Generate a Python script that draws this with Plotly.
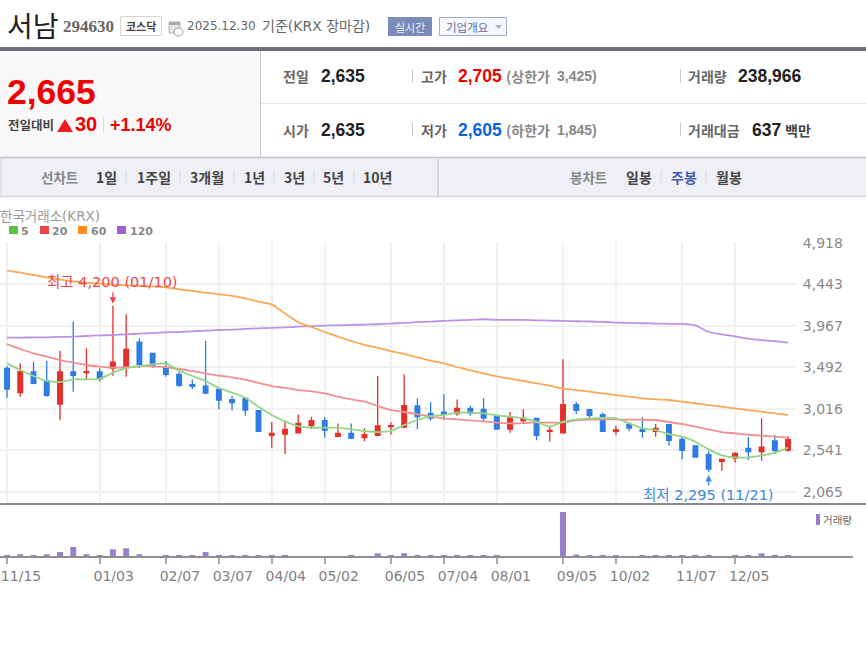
import plotly.graph_objects as go

dates = ["2024-11-15","2024-11-22","2024-11-29","2024-12-06","2024-12-13","2024-12-20","2024-12-27",
 "2025-01-03","2025-01-10","2025-01-17","2025-01-24","2025-01-31","2025-02-07","2025-02-14","2025-02-21","2025-02-28",
 "2025-03-07","2025-03-14","2025-03-21","2025-03-28","2025-04-04","2025-04-11","2025-04-18","2025-04-25",
 "2025-05-02","2025-05-09","2025-05-16","2025-05-23","2025-05-30","2025-06-05","2025-06-13","2025-06-20","2025-06-27",
 "2025-07-04","2025-07-11","2025-07-18","2025-07-25","2025-08-01","2025-08-08","2025-08-14","2025-08-22","2025-08-29",
 "2025-09-05","2025-09-12","2025-09-19","2025-09-26","2025-10-02","2025-10-10","2025-10-17","2025-10-24","2025-10-31",
 "2025-11-07","2025-11-14","2025-11-21","2025-11-28","2025-12-05","2025-12-12","2025-12-19","2025-12-26","2025-12-30"]
opens = [3482,3203,3440,3340,3073,3440,3432,3440,3482,3489,3783,3653,3485,3413,3294,3279,3241,3123,3138,2996,2714,2729,
 2744,2825,2882,2702,2737,2687,2714,2813,2809,3050,2966,2981,2962,3023,3012,2928,2786,2882,2909,2760,2744,
 3065,3008,2951,2760,2840,2779,2760,2836,2668,2592,2492,2416,2454,2565,2527,2649,2546]
highs = [3508,3539,3558,3566,3684,4016,3711,3482,4200,4100,3825,3653,3566,3436,3355,3799,3249,3165,3145,3000,2867,2882,
 2955,2928,2920,2851,2851,2794,3398,2863,3413,3138,3096,3184,3126,3054,3138,2947,2981,3012,2909,2813,3585,
 3096,3019,2977,2828,2859,2920,2844,2840,2706,2595,2531,2450,2519,2695,2909,2722,2705]
lows = [3145,3157,3298,3157,2886,3214,3348,3329,3398,3386,3489,3489,3386,3271,3245,3184,3016,3000,2939,2756,2573,2500,
 2737,2786,2687,2695,2668,2645,2714,2725,2794,2783,2882,2890,2939,2939,2878,2786,2744,2859,2657,2641,2744,
 2958,2890,2756,2714,2760,2687,2699,2599,2439,2458,2295,2309,2401,2431,2427,2500,2527]
closes = [3245,3443,3310,3172,3440,3401,3443,3360,3554,3700,3527,3505,3413,3287,3275,3199,3119,3088,3004,2760,2737,2783,
 2851,2882,2771,2737,2683,2721,2821,2825,3054,2928,2913,2955,3023,2970,2913,2786,2913,2909,2714,2771,3065,
 3000,2943,2760,2775,2798,2760,2794,2657,2542,2466,2328,2439,2508,2527,2580,2542,2665]
ma5 = [3539,3463,3394,3337,3325,3356,3356,3360,3432,3485,3508,3527,3539,3455,3394,3337,3256,3203,3145,3042,2947,2875,
 2821,2802,2802,2802,2783,2764,2752,2764,2832,2890,2935,2947,2974,2974,2966,2943,2928,2909,2870,2813,2870,
 2893,2905,2913,2909,2851,2794,2775,2729,2699,2641,2553,2485,2462,2462,2481,2515,2573]
ma20 = [3760,3703,3654,3615,3577,3547,3520,3501,3489,3493,3505,3505,3497,3474,3451,3424,3398,3379,3352,3314,3279,3258,
 3233,3218,3195,3157,3126,3100,3050,3004,2981,2958,2928,2909,2897,2886,2874,2859,2851,2855,2863,2859,2863,
 2886,2893,2897,2897,2893,2893,2890,2867,2844,2813,2783,2752,2737,2721,2710,2699,2687]
ma60 = [4601,4578,4551,4525,4498,4479,4463,4452,4440,4433,4425,4418,4410,4387,4368,4349,4330,4311,4284,4246,4215,4110,
 4009,3955,3898,3845,3795,3751,3716,3680,3646,3608,3570,3539,3497,3459,3424,3390,3363,3337,3310,3283,3249,
 3233,3214,3195,3176,3157,3138,3126,3119,3100,3081,3061,3042,3023,3004,2985,2966,2947]
ma120 = [3833,3833,3837,3837,3841,3845,3852,3859,3863,3871,3879,3886,3894,3898,3906,3913,3921,3925,3933,3940,3945,3950,
 3960,3966,3971,3975,3979,3983,3987,3994,4002,4010,4017,4025,4032,4036,4044,4036,4036,4036,4032,4029,4025,
 4021,4018,4013,4006,4002,3998,3994,3992,3990,3975,3898,3871,3848,3821,3805,3794,3775]
volume = [170,270,170,270,500,1000,270,170,770,870,270,0,170,170,170,500,170,170,170,170,170,170,
 0,0,0,0,170,0,370,170,370,170,170,170,170,170,170,170,0,0,0,0,4500,
 240,170,170,170,0,170,170,170,170,170,170,0,170,170,370,170,170]

tick_dates = ["2024-11-15","2025-01-03","2025-02-07","2025-03-07","2025-04-04","2025-05-02","2025-06-05",
              "2025-07-04","2025-08-01","2025-09-05","2025-10-02","2025-11-07","2025-12-05"]
tick_labels = ["11/15","01/03","02/07","03/07","04/04","05/02","06/05","07/04","08/01","09/05","10/02","11/07","12/05"]
price_ticks = [4918,4443,3967,3492,3016,2541,2065]

KR = "Noto Sans CJK KR"
MIX = "DejaVu Sans, Noto Sans CJK KR"
W, H = 866, 650
px = lambda x: x / W
py = lambda y: 1 - y / H

shapes, notes = [], []

def rect(x0, y0, x1, y1, fill=None, line=None, lw=1):
    shapes.append(dict(type="rect", xref="paper", yref="paper", x0=px(x0), x1=px(x1), y0=py(y0), y1=py(y1),
                       fillcolor=fill or "rgba(0,0,0,0)",
                       line=dict(color=line or "rgba(0,0,0,0)", width=lw if line else 0), layer="below"))

def hline(x0, x1, y, color, lw=1, layer="below"):
    shapes.append(dict(type="line", xref="paper", yref="paper", x0=px(x0), x1=px(x1), y0=py(y), y1=py(y),
                       line=dict(color=color, width=lw), layer=layer))

def vline(x, y0, y1, color, lw=1):
    shapes.append(dict(type="line", xref="paper", yref="paper", x0=px(x), x1=px(x), y0=py(y0), y1=py(y1),
                       line=dict(color=color, width=lw), layer="below"))

def tri(points, color):
    path = "M " + " L ".join(f"{px(a)},{py(b)}" for a, b in points) + " Z"
    shapes.append(dict(type="path", xref="paper", yref="paper", path=path, fillcolor=color, line=dict(width=0), layer="above"))

def note(x, y, text, size=13, color="#444", bold=False, family=KR, anchor="left"):
    t = f"<b>{text}</b>" if bold else text
    notes.append(dict(xref="paper", yref="paper", x=px(x), y=py(y), text=t, showarrow=False,
                      borderpad=0, borderwidth=0,
                      xanchor=anchor, yanchor="middle", font=dict(size=size, color=color, family=family)))

# ---------- header ----------
note(7, 25, "서남", 28, "#222")
note(63, 27, "294630", 17, "#666", True, "Liberation Serif")
rect(120.5, 16.5, 161.5, 35.5, "#ffffff", "#d5d5d5")
note(141, 26, "코스닥", 11, "#444", True, anchor="center")
rect(169, 22, 180, 33, "#e4e4e4", "#b5b5b5")
rect(169, 22, 180, 25, "#aaaaaa")
shapes.append(dict(type="circle", xref="paper", yref="paper", x0=px(174), x1=px(183), y0=py(36), y1=py(28),
                   fillcolor="#ffffff", line=dict(color="#999999", width=1), layer="above"))
note(187, 26, "2025.12.30", 12, "#666", False, "DejaVu Sans")
note(262, 26, "기준(KRX 장마감)", 14, "#666", False, MIX)
rect(388, 17, 432, 36, "#7b8cbb")
note(410, 26.5, "실시간", 11, "#eef1fa", anchor="center")
rect(439.5, 17.5, 506.5, 35.5, "#f6f7fc", "#9dabd0")
note(446, 26.5, "기업개요", 11.5, "#5d6f9e")
tri([(495, 25), (502, 25), (498.5, 29)], "#a3b0d0")
rect(0, 47, 866, 51, "#6d7079")

# ---------- quote panel ----------
rect(0, 51, 260, 157, "#f9f9f9")
vline(260.5, 51, 157, "#c9c9c9")
hline(261, 866, 103.5, "#e6e6e6")
note(7, 92, "2,665", 35.5, "#f00000", True, "Liberation Sans")
note(8, 125, "전일대비", 12.5, "#444", True)
tri([(57, 132), (73, 132), (65, 119)], "#ee1c1c")
note(75, 124, "30", 20, "#f00000", True, "Liberation Sans")
vline(103.5, 117, 133, "#dddddd")
note(110, 125, "+1.14%", 18, "#f00000", True, "Liberation Sans")

ROW1, ROW2 = 76, 129.5
note(283, ROW1, "전일", 14, "#666", True)
note(321, ROW1, "2,635", 17.5, "#222", True, "Liberation Sans")
note(283, ROW2, "시가", 14, "#666", True)
note(321, ROW2, "2,635", 17.5, "#222", True, "Liberation Sans")
for y in (ROW1, ROW2):
    vline(412.5, y - 7, y + 7, "#cccccc")
    vline(680.5, y - 7, y + 7, "#cccccc")
note(421, ROW1, "고가", 14, "#666", True)
note(458, ROW1, "2,705", 17.5, "#ee0000", True, "Liberation Sans")
note(506, ROW1, "(상한가", 14, "#888", True)
note(557, ROW1, "3,425)", 14, "#888", True, "Liberation Sans")
note(421, ROW2, "저가", 14, "#666", True)
note(458, ROW2, "2,605", 17.5, "#0b62e0", True, "Liberation Sans")
note(506, ROW2, "(하한가", 14, "#888", True)
note(557, ROW2, "1,845)", 14, "#888", True, "Liberation Sans")
note(688, ROW1, "거래량", 14, "#666", True)
note(738, ROW1, "238,966", 17.5, "#222", True, "Liberation Sans")
note(688, ROW2, "거래대금", 14, "#666", True)
note(752, ROW2, "637", 17.5, "#222", True, "Liberation Sans")
note(785, ROW2, "백만", 14, "#444", True)

# ---------- toolbar ----------
rect(0, 157, 866, 197, "#eef0f5")
hline(0, 866, 157.5, "#bfc2c9", 1.5)
hline(0, 866, 196.5, "#cfd1d6", 1.5)
vline(1, 157, 197, "#cfd1d6")
vline(438, 157, 197, "#cfd1d6", 1.5)
TB = 177
note(41, TB, "선차트", 13.5, "#888", True)
for x, label in [(96, "1일"), (137, "1주일"), (190, "3개월"), (244, "1년"), (284, "3년"), (323, "5년"), (363, "10년")]:
    note(x, TB, label, 14, "#444", True)
for x in (126, 180, 234, 274, 314, 354):
    vline(x, TB - 6, TB + 6, "#d5d7dc")
note(570, TB, "봉차트", 13.5, "#888", True)
note(626, TB, "일봉", 14, "#444", True)
note(671, TB, "주봉", 14, "#3f5cac", True)
note(716, TB, "월봉", 14, "#444", True)
for x in (661, 706):
    vline(x, TB - 6, TB + 6, "#d5d7dc")

# ---------- chart captions ----------
note(0, 215.5, "한국거래소(KRX)", 13.5, "#999", False, MIX)
for x, c, tx, label in [(9, "#5cc242", 21, "5"), (40, "#ee4545", 52, "20"), (78, "#ff8c1a", 91, "60"), (117, "#a05ed6", 130, "120")]:
    rect(x, 226, x + 9, 234, c)
    note(tx, 231, label, 11, "#888", True, "DejaVu Sans")
hline(0, 866, 504, "#8a8a8a", 2, "above")
hline(0, 853, 557, "#8f8f8f", 2, "above")
rect(816, 514, 820, 525, "#9a7fc8")
note(823, 519, "거래량", 10.5, "#666")

# ---------- high / low markers, anchored on the data ----------
notes += [
    dict(x=dates[8], y=highs[8], xref="x", yref="y", text="", showarrow=True, ax=0, ay=-15, standoff=2,
         arrowhead=2, arrowsize=1, arrowwidth=1.3, arrowcolor="#f04545"),
    dict(x=dates[8], y=highs[8], xref="x", yref="y", text="최고 4,200 (01/10)", showarrow=False, yshift=24,
         font=dict(size=14.5, color="#f04545", family=MIX)),
    dict(x=dates[53], y=lows[53], xref="x", yref="y", text="", showarrow=True, ax=0, ay=15, standoff=3,
         arrowhead=2, arrowsize=1, arrowwidth=1.3, arrowcolor="#3f87e0"),
    dict(x=dates[53], y=lows[53], xref="x", yref="y", text="최저 2,295 (11/21)", showarrow=False, yshift=-23,
         font=dict(size=14.5, color="#3f87e0", family=MIX)),
]

# ---------- traces ----------
fig = go.Figure()
for vals, color in [(ma120, "#bd92e4"), (ma60, "#f9a85a"), (ma20, "#f09090"), (ma5, "#96d488")]:
    fig.add_trace(go.Scatter(x=dates, y=vals, mode="lines", showlegend=False, hoverinfo="skip",
                             line=dict(color=color, width=1.8, shape="spline", smoothing=0.5)))
fig.add_trace(go.Candlestick(x=dates, open=opens, high=highs, low=lows, close=closes, showlegend=False,
                             whiskerwidth=0,
                             increasing=dict(line=dict(color="#e3302a", width=1.3), fillcolor="#e3302a"),
                             decreasing=dict(line=dict(color="#2f7ce2", width=1.3), fillcolor="#2f7ce2")))
fig.add_trace(go.Bar(x=dates, y=volume, xaxis="x2", yaxis="y2", width=0.45, showlegend=False,
                     marker=dict(color="#9a7fc8", line=dict(width=0))))

x_range = [-0.53, 59.6]
fig.update_layout(
    template="none",
    width=W, height=H, margin=dict(l=0, r=0, t=0, b=0, pad=0), autosize=False,
    paper_bgcolor="#ffffff", plot_bgcolor="rgba(0,0,0,0)", boxgap=0.5,
    font=dict(family=KR), shapes=shapes, annotations=notes, showlegend=False,
    xaxis=dict(type="category", categoryorder="array", categoryarray=dates, range=x_range, automargin=False,
               domain=[0, 796 / W], anchor="y", rangeslider=dict(visible=False),
               tickmode="array", tickvals=tick_dates, ticktext=tick_labels, showticklabels=False,
               ticks="", showgrid=True, gridcolor="#f1f1f1", gridwidth=1.6, zeroline=False, showline=False),
    yaxis=dict(range=[1939, 4929], domain=[py(503), py(242)], anchor="x", side="right", automargin=False,
               tickmode="array", tickvals=price_ticks, tickformat=",", showgrid=True,
               gridcolor="#f1f1f1", gridwidth=1.6, zeroline=False, showline=False,
               ticks="outside", ticklen=3, tickcolor="rgba(0,0,0,0)",
               tickfont=dict(family="DejaVu Sans", size=14, color="#8a8a8a")),
    xaxis2=dict(type="category", categoryorder="array", categoryarray=dates, range=x_range, automargin=False,
                domain=[0, 796 / W], anchor="y2", tickmode="array", tickvals=tick_dates, ticktext=tick_labels,
                ticks="outside", ticklen=6, tickcolor="#aaaaaa", tickwidth=1.5, showgrid=False, showline=False,
                ticklabelshift=14, tickangle=0, zeroline=False,
                tickfont=dict(family="DejaVu Sans", size=14, color="#808080")),
    yaxis2=dict(range=[0, 5200], domain=[py(557), py(505)], anchor="x2", visible=False),
)

fig.write_html("out.html", config=dict(displayModeBar=False),
               post_script="document.body.style.margin='0';document.body.style.overflow='hidden';")
